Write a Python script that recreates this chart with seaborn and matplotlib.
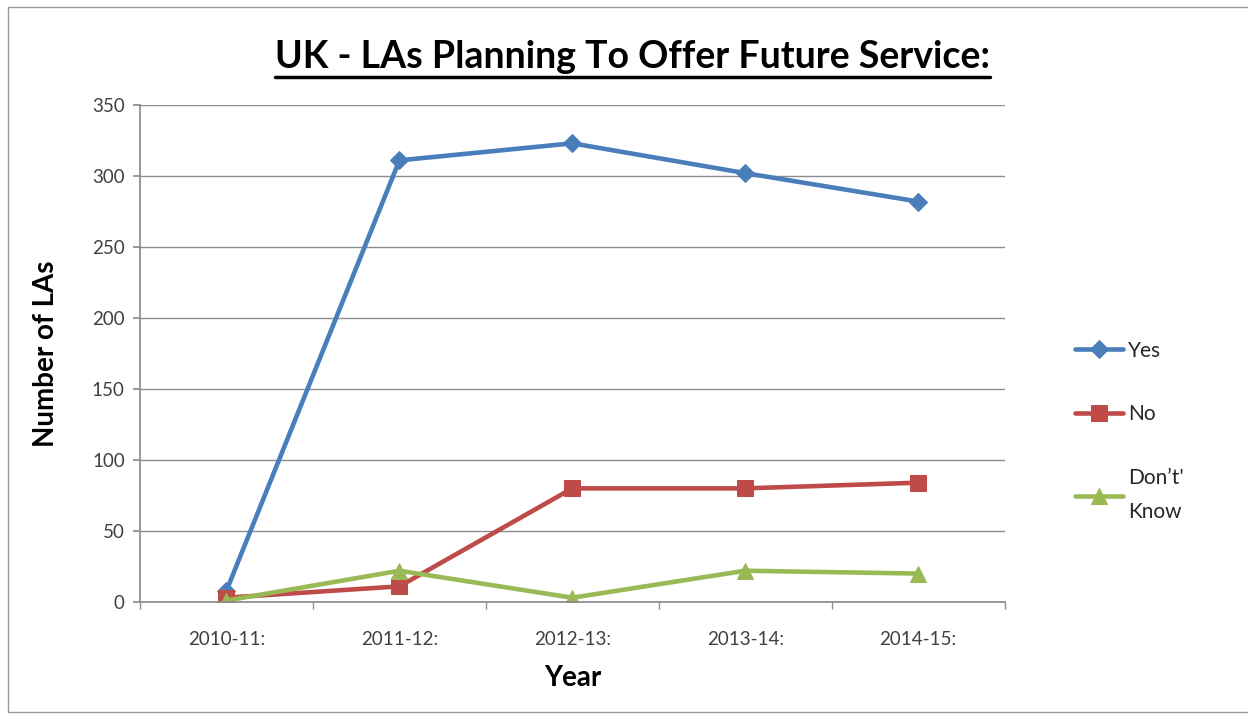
import matplotlib
matplotlib.use("Agg")
import matplotlib.pyplot as plt
import seaborn as sns
import pandas as pd
from matplotlib.lines import Line2D
from matplotlib.patches import Rectangle

years = ["2010-11:", "2011-12:", "2012-13:", "2013-14:", "2014-15:"]
yes_vals = [8, 311, 323, 302, 282]
no_vals = [3, 11, 80, 80, 84]
dk_vals = [1, 22, 3, 22, 20]
series_names = ["Yes", "No", "Don\u2019t'\nKnow"]
colors = ["#4A7EBB", "#BE4B48", "#98B954"]
markers = ["D", "s", "^"]

rows = []
for name, vals in zip(series_names, [yes_vals, no_vals, dk_vals]):
    for i, (yr, v) in enumerate(zip(years, vals)):
        rows.append({"idx": i, "Year": yr, "value": v, "series": name})
df = pd.DataFrame(rows)

sns.set_theme(style="white")
plt.rcParams["font.family"] = ["Lato", "DejaVu Sans"]

fig = plt.figure(figsize=(12.48, 7.18), dpi=100)
ax = fig.add_axes([0.1122, 0.1616, 0.805 - 0.1122, 0.8538 - 0.1616])

for name, c, m in zip(series_names, colors, markers):
    sub = df[df["series"] == name]
    sns.lineplot(data=sub, x="idx", y="value", ax=ax, color=c, marker=m,
                 markersize=11 if m != "D" else 9, markeredgecolor=c,
                 linewidth=3.3, label=name)

ax.set_xlim(-0.5, len(years) - 0.5)
ax.set_ylim(0, 350)
ax.set_yticks(range(0, 351, 50))
ax.set_xticks(range(len(years)))
ax.set_xticklabels(years)
ax.set_xticks([i - 0.5 for i in range(len(years) + 1)], minor=True)
ax.yaxis.grid(True, color="#8c8c8c", linewidth=1.0)
ax.xaxis.grid(False)
for s in ["top", "right"]:
    ax.spines[s].set_visible(False)
ax.spines["left"].set_color("#8c8c8c")
ax.spines["bottom"].set_color("#8c8c8c")
ax.tick_params(axis="y", which="major", left=True, length=5, color="#8c8c8c",
               labelsize=13.5, labelcolor="#404040", pad=6)
ax.tick_params(axis="x", which="major", bottom=False, labelsize=13.5,
               labelcolor="#404040", pad=15)
ax.tick_params(axis="x", which="minor", bottom=True, length=5, color="#8c8c8c")
ax.set_xlabel("Year", fontsize=20, fontweight="bold", color="black", labelpad=12)
ax.set_ylabel("Number of LAs", fontsize=20, fontweight="bold", color="black", labelpad=24)

leg = ax.legend(loc="center left", bbox_to_anchor=(1.06, 0.343), frameon=False,
                fontsize=15, handlelength=2.3, labelspacing=2.1, handletextpad=0.25)
for t in leg.get_texts():
    t.set_color("#262626")
    t.set_linespacing(1.9)

title = fig.text(0.5065, 0.905, "UK - LAs Planning To Offer Future Service:",
                 ha="center", va="baseline", fontsize=27, fontweight="bold", color="black")

# outer border
fig.patches.append(Rectangle((8 / 1248, 6 / 718), 1.0, 1 - 13 / 718,
                             transform=fig.transFigure, fill=False,
                             edgecolor="#9a9a9a", linewidth=1.0))

# underline title
fig.canvas.draw()
bb = title.get_window_extent().transformed(fig.transFigure.inverted())
fig.add_artist(Line2D([bb.x0, bb.x1], [bb.y0 - 0.004, bb.y0 - 0.004],
                      transform=fig.transFigure, color="black", linewidth=2.5))

fig.savefig("out.png", dpi=100)
